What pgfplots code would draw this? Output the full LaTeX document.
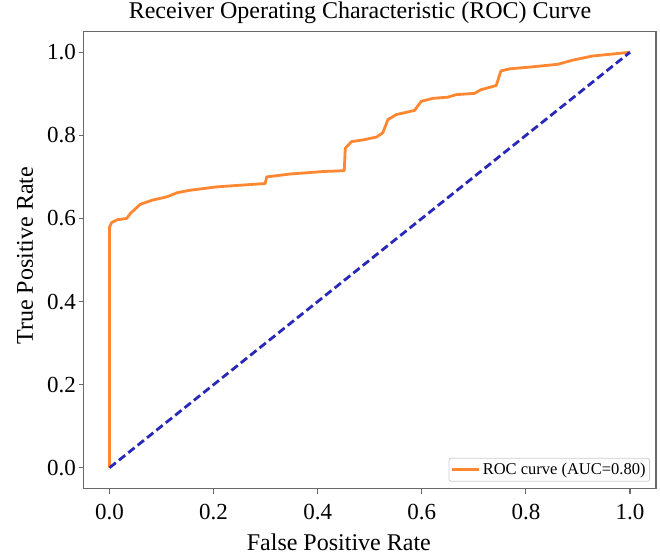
\documentclass[border=0pt]{standalone}
\usepackage{fontspec}
\setmainfont{Liberation Serif}
\usepackage{pgfplots}
\pgfplotsset{compat=1.18}

\definecolor{roc}{RGB}{255,135,50}
\definecolor{chance}{RGB}{40,40,185}
\definecolor{frame}{RGB}{105,105,105}

\begin{document}
\begin{tikzpicture}
\useasboundingbox (-83.5pt,-65.5pt) rectangle (576.5pt,488.5pt);
\begin{axis}[
  scale only axis,
  width=572.5pt, height=457pt,
  xmin=-0.05, xmax=1.05, ymin=-0.05, ymax=1.05,
  xtick={0,0.2,0.4,0.6,0.8,1.0},
  ytick={0,0.2,0.4,0.6,0.8,1.0},
  /pgf/number format/.cd, fixed, fixed zerofill, precision=1, assume math mode=true,
  /pgfplots/.cd,
  axis line style={draw=frame, line width=1.8pt},
  tick align=outside,
  major tick length=5pt,
  tick style={draw=frame, line width=1.2pt},
  xtick pos=bottom, ytick pos=left,
  ticklabel style={font=\fontsize{23}{26}\selectfont, text=black},
  xticklabel style={anchor=base, yshift=-26pt},
  yticklabel style={anchor=east, inner sep=0pt, xshift=-2.5pt},
  title={Receiver Operating Characteristic (ROC) Curve},
  title style={font=\fontsize{24}{28}\selectfont, at={(rel axis cs:0.483,1)}, anchor=base, yshift=6.7pt},
  xlabel={False Positive Rate},
  xlabel style={font=\fontsize{24}{28}\selectfont, at={(rel axis cs:0.446,0)}, anchor=base, inner sep=0pt, yshift=-61.5pt},
  ylabel={True Positive Rate},
  ylabel style={font=\fontsize{24}{28}\selectfont, at={(rel axis cs:0,0.509)}, anchor=base, inner sep=0pt, yshift=50.5pt},
  legend style={at={(rel axis cs:0.9895,0.015)}, anchor=south east,
    draw=black!20, line width=0.8pt, rounded corners=2pt,
    font=\fontsize{16.5}{19}\selectfont, inner xsep=2pt, inner ysep=3pt},
  legend cell align=left,
  legend image code/.code={\draw[#1] (0pt,0pt) -- (27pt,0pt);},
]
% ROC curve
\addplot[roc, line width=2.8pt, line join=round] coordinates {
(0,0) (0,0.579) (0.004,0.590) (0.015,0.597) (0.033,0.600) (0.040,0.612)
(0.059,0.634) (0.082,0.644) (0.110,0.652) (0.130,0.662) (0.155,0.668)
(0.206,0.676) (0.251,0.680) (0.299,0.684) (0.302,0.700) (0.347,0.707)
(0.411,0.713) (0.451,0.715) (0.453,0.769) (0.465,0.785) (0.487,0.789)
(0.513,0.796) (0.525,0.806) (0.531,0.825) (0.535,0.838) (0.551,0.850)
(0.586,0.860) (0.599,0.882) (0.621,0.889) (0.650,0.892) (0.666,0.898)
(0.701,0.901) (0.714,0.910) (0.743,0.920) (0.752,0.955) (0.768,0.960)
(0.813,0.965) (0.861,0.971) (0.890,0.981) (0.928,0.991) (1,1)
};
\addlegendentry{ROC curve (AUC=0.80)}
% chance diagonal
\addplot[chance, line width=2.8pt, dash pattern=on 8pt off 4pt, forget plot] coordinates {(0,0) (1,1)};
\end{axis}
\end{tikzpicture}
\end{document}
